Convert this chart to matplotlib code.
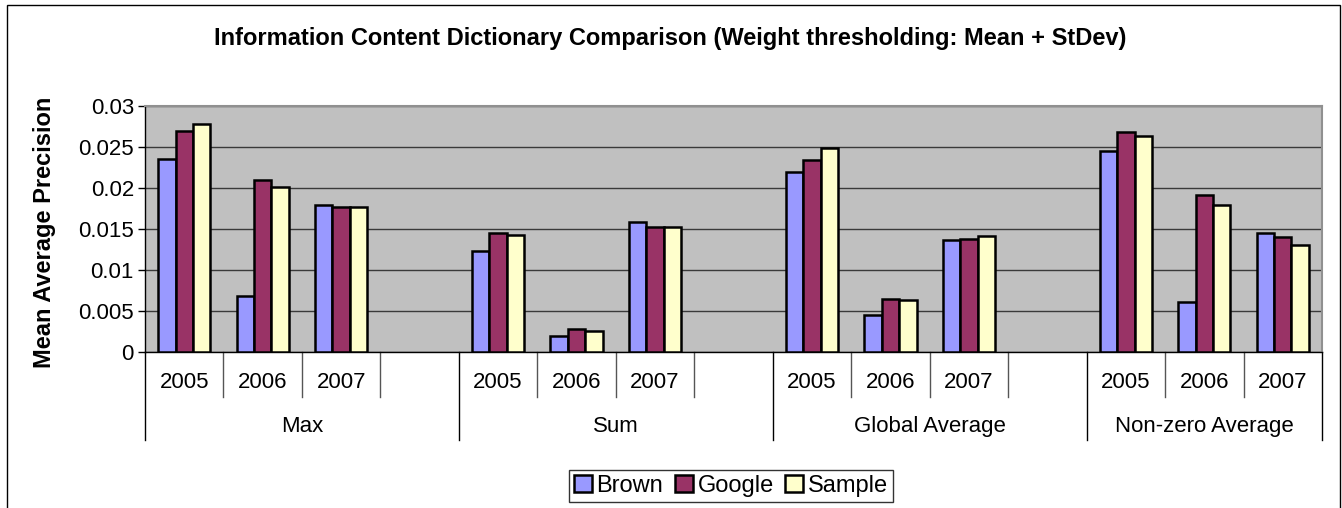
import matplotlib
matplotlib.use("Agg")
import matplotlib.pyplot as plt
from matplotlib.patches import Patch, Rectangle

plt.rcParams['font.family'] = ['Liberation Sans', 'DejaVu Sans']

# data
groups = ["Max", "Sum", "Global Average", "Non-zero Average"]
years = ["2005", "2006", "2007"]
brown = [0.0235, 0.0068, 0.0179,
         0.0123, 0.0020, 0.0158,
         0.0220, 0.0045, 0.0137,
         0.0245, 0.0061, 0.0145]
google = [0.0270, 0.0210, 0.0177,
          0.0145, 0.0028, 0.0153,
          0.0234, 0.0065, 0.0138,
          0.0268, 0.0192, 0.0140]
sample = [0.0278, 0.0201, 0.0177,
          0.0143, 0.0026, 0.0152,
          0.0249, 0.0064, 0.0142,
          0.0264, 0.0179, 0.0131]
series_names = ["Brown", "Google", "Sample"]
colors = ["#9999FF", "#993366", "#FFFFCC"]

W, H = 1342, 508
fig = plt.figure(figsize=(W / 100, H / 100), dpi=100)
ax = fig.add_axes([145 / W, (H - 352) / H, (1322 - 145) / W, (352 - 106) / H])

# slot layout: each group has 4 slots (3 years + empty spacer), last group no spacer
slots = []
for g in range(len(groups)):
    for j in range(len(years)):
        slots.append(4 * g + j)
n_slots = 4 * len(groups) - 1

bw = 1 / 4.5
for k, vals in enumerate([brown, google, sample]):
    xs = [s + (k - 1) * bw for s in slots]
    ax.bar(xs, vals, width=bw, color=colors[k], edgecolor="black",
           linewidth=1.8, zorder=3)

ax.set_xlim(-0.5, n_slots - 0.5)
ax.set_ylim(0, 0.03)
ax.set_yticks([0, 0.005, 0.01, 0.015, 0.02, 0.025, 0.03])
ax.set_yticklabels(["0", "0.005", "0.01", "0.015", "0.02", "0.025", "0.03"])
ax.set_facecolor("#C0C0C0")
ax.yaxis.grid(True, color="#3a3a3a", linewidth=1.0, zorder=1)
ax.set_axisbelow(True)
ax.tick_params(axis="y", direction="out", length=5, width=1, labelsize=16, pad=3)
ax.tick_params(axis="x", bottom=False, labelbottom=False)
for side in ["top", "right"]:
    ax.spines[side].set_color("#909090")
    ax.spines[side].set_linewidth(1.5)
for side in ["left", "bottom"]:
    ax.spines[side].set_color("black")
    ax.spines[side].set_linewidth(1.0)

# multi-level category axis
tr = ax.get_xaxis_transform()
yr_len = 0.184
grp_len = 0.359
for b in range(n_slots + 1):
    edge = b - 0.5
    long_line = (b % 4 == 0) or b == n_slots
    ln = grp_len if long_line else yr_len
    col = "black" if long_line else "#555555"
    ax.plot([edge, edge], [0, -ln], transform=tr, color=col, linewidth=1.0,
            clip_on=False)
for g, grp in enumerate(groups):
    for j, yr in enumerate(years):
        ax.text(4 * g + j, -0.125, yr, transform=tr, ha="center", va="center",
                fontsize=16)
    span = 3 if g == len(groups) - 1 else 4
    ax.text(4 * g + (span - 1) / 2, -0.302, grp, transform=tr, ha="center",
            va="center", fontsize=16)

fig.text(670 / W, 1 - 38 / H,
         "Information Content Dictionary Comparison (Weight thresholding: Mean + StDev)",
         ha="center", va="center", fontsize=17, fontweight="bold")
fig.text(45 / W, 1 - 232 / H, "Mean Average Precision", rotation=90,
         ha="center", va="center", fontsize=17, fontweight="bold")

# outer chart border
fig.patches.append(Rectangle((7 / W, -0.05), (1340 - 7) / W, 1.05 - 4.5 / H,
                             transform=fig.transFigure, fill=False,
                             edgecolor="black", linewidth=1.0))

handles = [Patch(facecolor=c, edgecolor="black", linewidth=1.8) for c in colors]
leg = fig.legend(handles, series_names, loc="center", ncol=3,
                 bbox_to_anchor=(731 / W, 1 - 486 / H), fontsize=17,
                 frameon=True, fancybox=False, edgecolor="black",
                 handlelength=0.75, handleheight=0.75, handletextpad=0.2,
                 columnspacing=0.5, borderpad=0.2, borderaxespad=0)
leg.get_frame().set_linewidth(1.0)

fig.savefig("out.png", dpi=100)
